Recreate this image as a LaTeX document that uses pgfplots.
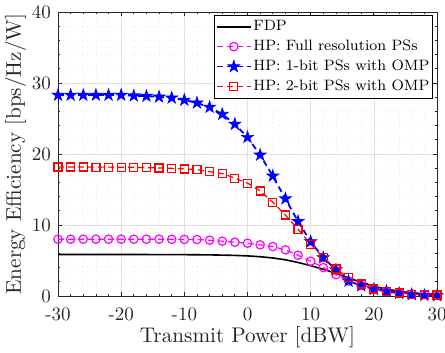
\documentclass[border=0pt]{standalone}
\usepackage{pgfplots}
\pgfplotsset{compat=1.18}
\definecolor{axgray}{gray}{0.15}
\definecolor{mmag}{rgb}{1,0,1}
\definecolor{mblue}{rgb}{0,0,1}
\definecolor{mred}{rgb}{1,0,0}
\pgfdeclareplotmark{fstar}{%
  \pgfpathmoveto{\pgfqpointpolar{90}{\pgfplotmarksize}}%
  \pgfpathlineto{\pgfqpointpolar{126}{0.382\pgfplotmarksize}}%
  \pgfpathlineto{\pgfqpointpolar{162}{\pgfplotmarksize}}%
  \pgfpathlineto{\pgfqpointpolar{198}{0.382\pgfplotmarksize}}%
  \pgfpathlineto{\pgfqpointpolar{234}{\pgfplotmarksize}}%
  \pgfpathlineto{\pgfqpointpolar{270}{0.382\pgfplotmarksize}}%
  \pgfpathlineto{\pgfqpointpolar{306}{\pgfplotmarksize}}%
  \pgfpathlineto{\pgfqpointpolar{342}{0.382\pgfplotmarksize}}%
  \pgfpathlineto{\pgfqpointpolar{18}{\pgfplotmarksize}}%
  \pgfpathlineto{\pgfqpointpolar{54}{0.382\pgfplotmarksize}}%
  \pgfpathclose
  \pgfusepathqfillstroke}
\begin{document}
\begin{tikzpicture}
\begin{axis}[
  scale only axis,
  width=189.5pt, height=142pt,
  xmin=-30, xmax=30, ymin=0, ymax=40,
  xtick={-30,-20,-10,0,10,20,30},
  xticklabels={-30,-20,-10,0,10,20,30},
  ytick={0,10,20,30,40},
  yticklabels={0,10,20,30,40},
  minor x tick num=4, minor y tick num=4,
  grid=both,
  major grid style={gray!25, line width=0.3pt},
  minor grid style={gray!15, dotted, line width=0.3pt},
  tick align=inside,
  major tick length=2pt, minor tick length=1pt,
  axis line style={axgray, line width=0.4pt},
  tick style={axgray, line width=0.4pt},
  ticklabel style={font=\fontsize{9.5}{11}\selectfont, text=axgray},
  xticklabel style={yshift=-2.5pt},
  xlabel={Transmit Power [dBW]},
  ylabel={Energy Efficiency [bps/Hz/W]},
  label style={text=axgray, font=\fontsize{10.6}{12}\selectfont, inner sep=0pt},
  xlabel style={at={(axis description cs:0.5,0)}, anchor=base, yshift=-23.3pt},
  ylabel style={at={(axis description cs:-0.083,0.5)}, anchor=south, rotate=0},
  legend style={at={(1,1)}, xshift=-2pt, yshift=-1.5pt, anchor=north east, font=\fontsize{7.5}{9}\selectfont, draw=black, line width=0.4pt, inner sep=0.8pt, row sep=0pt, legend cell align=left, nodes={inner xsep=0.8pt, inner ysep=1.6pt}},
  every axis plot/.append style={dash pattern=on 3pt off 2pt},
]
\addplot[black, line width=0.8pt, solid] coordinates {
(-30,5.84) (-28,5.84) (-26,5.84) (-24,5.84) (-22,5.84) (-20,5.84) (-18,5.84) (-16,5.84) (-14,5.83) (-12,5.83) (-10,5.82) (-8,5.81) (-6,5.79) (-4,5.76) (-2,5.72) (0,5.65) (2,5.53) (4,5.36) (6,5.1) (8,4.72) (10,4.28) (12,3.76) (14,3.2) (16,2.56) (18,1.92) (20,1.38) (22,0.95) (24,0.66) (26,0.43) (28,0.28) (30,0.19)};
\addlegendentry{FDP}
\addplot[mmag, line width=0.6pt, mark=o, mark size=2.1pt, mark options={solid, line width=0.6pt, draw=mmag}] coordinates {
(-30,8.0) (-28,8.0) (-26,8.0) (-24,8.0) (-22,8.0) (-20,8.0) (-18,8.0) (-16,8.0) (-14,8.0) (-12,7.98) (-10,7.97) (-8,7.95) (-6,7.86) (-4,7.72) (-2,7.58) (0,7.43) (2,7.2) (4,6.96) (6,6.5) (8,5.74) (10,4.9) (12,4.0) (14,3.0) (16,2.1) (18,1.5) (20,1.0) (22,0.66) (24,0.42) (26,0.28) (28,0.19) (30,0.14)};
\addlegendentry{HP: Full resolution PSs}
\addplot[mblue, line width=0.9pt, mark=fstar, mark size=3.2pt, mark options={solid, line width=0.3pt, draw=mblue, fill=mblue}] coordinates {
(-30,28.3) (-28,28.3) (-26,28.3) (-24,28.3) (-22,28.3) (-20,28.3) (-18,28.2) (-16,28.15) (-14,28.05) (-12,27.9) (-10,27.6) (-8,27.2) (-6,26.6) (-4,25.6) (-2,24.2) (0,22.35) (2,19.86) (4,16.9) (6,13.7) (8,10.5) (10,7.65) (12,5.4) (14,3.7) (16,2.1) (18,1.46) (20,0.94) (22,0.66) (24,0.38) (26,0.2) (28,0.1) (30,0.05)};
\addlegendentry{HP: 1-bit PSs with OMP}
\addplot[mred, line width=0.6pt, mark=square, mark size=2.0pt, mark options={solid, line width=0.6pt, draw=mred}] coordinates {
(-30,18.16) (-28,18.16) (-26,18.16) (-24,18.15) (-22,18.15) (-20,18.14) (-18,18.12) (-16,18.08) (-14,18.03) (-12,17.98) (-10,17.9) (-8,17.8) (-6,17.5) (-4,17.25) (-2,16.6) (0,15.9) (2,14.8) (4,13.2) (6,11.4) (8,9.4) (10,7.3) (12,5.4) (14,3.8) (16,2.6) (18,1.7) (20,1.0) (22,0.66) (24,0.42) (26,0.25) (28,0.18) (30,0.15)};
\addlegendentry{HP: 2-bit PSs with OMP}
\end{axis}
\pgfresetboundingbox
\path[use as bounding box] ([shift={(-29pt,-28pt)}]current axis.south west) rectangle ([shift={(4pt,6pt)}]current axis.north east);
\end{tikzpicture}
\end{document}
